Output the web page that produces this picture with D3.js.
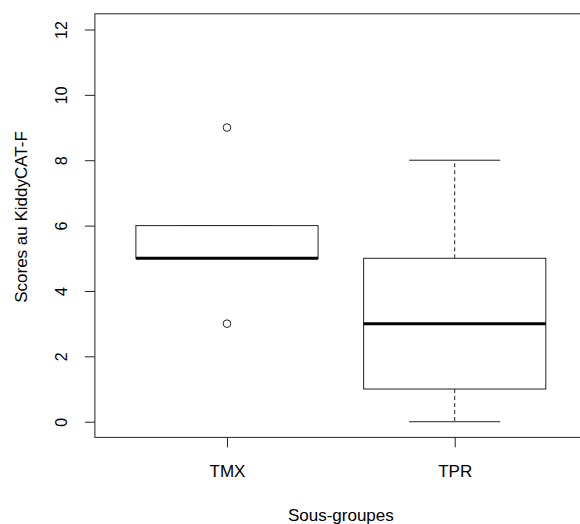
<!DOCTYPE html>
<html>
<head>
<meta charset="utf-8">
<script src="https://cdn.jsdelivr.net/npm/d3@7"></script>
<style>
  html, body { margin: 0; padding: 0; background: #fff; }
  svg { display: block; }
  text { font-family: "Liberation Sans", Arial, sans-serif; fill: #000; }
</style>
</head>
<body>
<svg id="chart" width="580" height="524"></svg>
<script>
// ---- data ----
const categories = ["TMX", "TPR"];
const q1 = [5, 1];
const medians = [5, 3];
const q3 = [6, 5];
const whiskerLow = [5, 0];
const whiskerHigh = [6, 8];
const outliers = [[9, 3], []];
const yTicks = [0, 2, 4, 6, 8, 10, 12];
const xTitle = "Sous-groupes";
const yTitle = "Scores au KiddyCAT-F";

// ---- layout ----
const svg = d3.select("#chart");
const x = d3.scaleLinear().domain([0.42, 2.58]).range([94.9, 586.8]);
const y = d3.scaleLinear().domain([-0.48, 12.48]).range([437.4, 13.8]);
const boxHalf = 0.4, capHalf = 0.2;
const stroke = "#222";

const data = categories.map((c, i) => ({
  cat: c, pos: i + 1, q1: q1[i], med: medians[i], q3: q3[i],
  lo: whiskerLow[i], hi: whiskerHigh[i], out: outliers[i]
}));

const g = svg.append("g");
const boxes = g.selectAll("g.box").data(data).enter().append("g").attr("class", "box");

// whiskers (dashed)
boxes.append("line")
  .attr("x1", d => x(d.pos)).attr("x2", d => x(d.pos))
  .attr("y1", d => y(d.q3)).attr("y2", d => y(d.hi))
  .attr("stroke", stroke).attr("stroke-dasharray", "4,3");
boxes.append("line")
  .attr("x1", d => x(d.pos)).attr("x2", d => x(d.pos))
  .attr("y1", d => y(d.q1)).attr("y2", d => y(d.lo))
  .attr("stroke", stroke).attr("stroke-dasharray", "4,3");
// caps
boxes.append("line")
  .attr("x1", d => x(d.pos - capHalf)).attr("x2", d => x(d.pos + capHalf))
  .attr("y1", d => y(d.hi)).attr("y2", d => y(d.hi))
  .attr("stroke", stroke);
boxes.append("line")
  .attr("x1", d => x(d.pos - capHalf)).attr("x2", d => x(d.pos + capHalf))
  .attr("y1", d => y(d.lo)).attr("y2", d => y(d.lo))
  .attr("stroke", stroke);
// box
boxes.append("rect")
  .attr("x", d => x(d.pos - boxHalf))
  .attr("width", d => x(d.pos + boxHalf) - x(d.pos - boxHalf))
  .attr("y", d => y(d.q3))
  .attr("height", d => y(d.q1) - y(d.q3))
  .attr("fill", "#fff").attr("stroke", stroke);
// median
boxes.append("line")
  .attr("x1", d => x(d.pos - boxHalf)).attr("x2", d => x(d.pos + boxHalf))
  .attr("y1", d => y(d.med)).attr("y2", d => y(d.med))
  .attr("stroke", "#000").attr("stroke-width", 3);
// outliers
boxes.each(function(d) {
  d3.select(this).selectAll("circle").data(d.out).enter().append("circle")
    .attr("cx", x(d.pos)).attr("cy", v => y(v)).attr("r", 3.8)
    .attr("fill", "none").attr("stroke", stroke);
});

// plot frame
svg.append("rect")
  .attr("x", x(0.42)).attr("y", y(12.48))
  .attr("width", x(2.58) - x(0.42)).attr("height", y(-0.48) - y(12.48))
  .attr("fill", "none").attr("stroke", stroke);

// y axis
const yAxis = svg.append("g")
  .attr("transform", `translate(${x(0.42)},0)`)
  .call(d3.axisLeft(y).tickValues(yTicks).tickSize(10).tickSizeOuter(0));
yAxis.select(".domain").remove();
yAxis.selectAll(".tick line").attr("stroke", stroke);
yAxis.selectAll(".tick text")
  .attr("x", 0).attr("y", 0).attr("dy", 0)
  .attr("text-anchor", "middle")
  .attr("transform", "translate(-28,0) rotate(-90)")
  .style("font-size", "16px");

// x axis
const xAxis = svg.append("g")
  .attr("transform", `translate(0,${y(-0.48)})`)
  .call(d3.axisBottom(x).tickValues(data.map(d => d.pos))
    .tickFormat((v, i) => categories[i]).tickSize(10).tickSizeOuter(0));
xAxis.select(".domain").remove();
xAxis.selectAll(".tick line").attr("stroke", stroke);
xAxis.selectAll(".tick text")
  .attr("y", 39.5).attr("dy", 0)
  .style("font-size", "17px");

// titles
svg.append("text")
  .attr("x", (x(0.42) + x(2.58)) / 2).attr("y", 521)
  .attr("text-anchor", "middle").style("font-size", "17px")
  .text(xTitle);
svg.append("text")
  .attr("transform", "translate(27,217) rotate(-90)")
  .attr("text-anchor", "middle").style("font-size", "17px")
  .text(yTitle);
</script>
</body>
</html>
